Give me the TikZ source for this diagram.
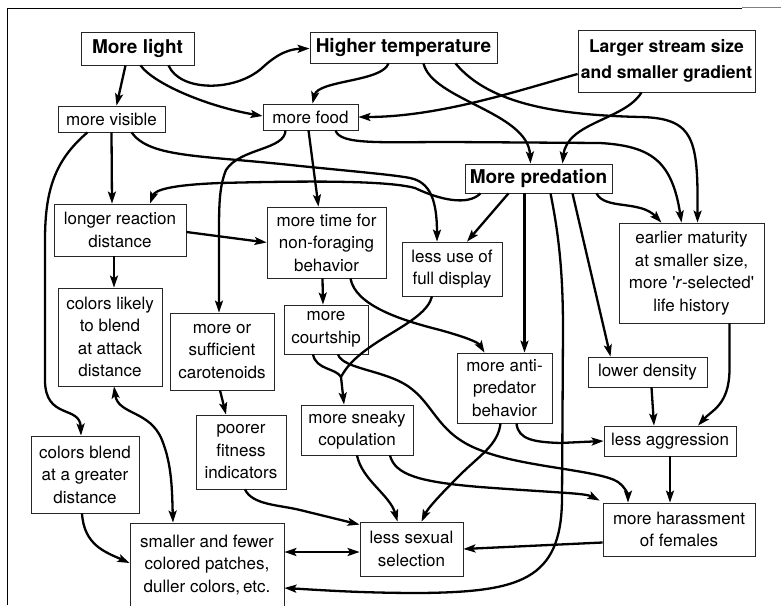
\documentclass[tikz,border=0pt]{standalone}
\usepackage{fontspec}
\setmainfont{TeX Gyre Heros}
\usetikzlibrary{arrows.meta}
\begin{document}
\begin{tikzpicture}[x=1pt,y=-1pt,
  box/.style={draw=black!85, line width=0.8pt, align=center, inner sep=0pt, font=\fontsize{17}{22.5}\selectfont},
  bbox/.style={box, font=\fontsize{19}{26}\selectfont\bfseries},
  conn/.style={line width=2.3pt, -{Stealth[length=12pt,width=8pt,inset=2.5pt]}},
  plain/.style={line width=2.3pt},
  both/.style={line width=2.3pt, {Stealth[length=12pt,width=8pt,inset=2.5pt]}-{Stealth[length=12pt,width=8pt,inset=2.5pt]}}]
\useasboundingbox (0,0) rectangle (781,605);
\fill[white] (0,0) rectangle (781,605);
% frame
\draw[line width=1.3pt] (7.5,605) -- (7.5,8.5) -- (742,8.5);
\draw[line width=1.3pt, gray] (742,7.5) -- (781,7.5);
% nodes
\node[bbox, minimum width=113pt, minimum height=33pt] (ML) at (137.5,48.5) {More light};
\node[bbox, minimum width=187pt, minimum height=31pt] (HT) at (403.5,47.5) {Higher temperature};
\node[bbox, minimum width=177pt, minimum height=62pt, font=\fontsize{17.5}{26}\selectfont\bfseries] (LS) at (666.5,61) {Larger stream size\\and smaller gradient};
\node[box, minimum width=107pt, minimum height=26pt] (MV) at (111.5,119) {more visible};
\node[box, minimum width=95pt, minimum height=26pt] (MF) at (310.5,117) {more food};
\node[bbox, minimum width=147pt, minimum height=29pt] (MP) at (538.5,178.5) {More predation};
\node[box, minimum width=132pt, minimum height=52pt] (LR) at (120,230) {longer reaction\\distance};
\node[box, minimum width=119pt, minimum height=71pt] (MT) at (326.5,242.5) {more time for\\non-foraging\\behavior};
\node[box, minimum width=100pt, minimum height=54pt] (LU) at (452,269) {less use of\\full display};
\node[box, minimum width=145pt, minimum height=100pt] (EM) at (691.5,273) {earlier maturity\\at smaller size,\\more \textquotesingle\textit{r}-selected\textquotesingle\\life history};
\node[box, minimum width=104pt, minimum height=98pt] (CLB) at (110,337) {colors likely\\to blend\\at attack\\distance};
\node[box, minimum width=104pt, minimum height=77pt] (CAR) at (222,351.5) {more or\\sufficient\\carotenoids};
\node[box, minimum width=84pt, minimum height=49pt] (MC) at (326,329.5) {more\\courtship};
\node[box, minimum width=95pt, minimum height=70pt] (AP) at (504.5,388) {more anti-\\predator\\behavior};
\node[box, minimum width=119pt, minimum height=30pt] (LD) at (647.5,372) {lower density};
\node[box, minimum width=108pt, minimum height=77pt] (CBG) at (85,474.5) {colors blend\\at a greater\\distance};
\node[box, minimum width=90pt, minimum height=74pt] (PF) at (241,452) {poorer\\fitness\\indicators};
\node[box, minimum width=112pt, minimum height=50pt] (SC) at (357,430) {more sneaky\\copulation};
\node[box, minimum width=132pt, minimum height=30pt] (LA) at (670,441) {less aggression};
\node[box, minimum width=154pt, minimum height=84pt] (SP) at (207,565) {smaller and fewer\\colored patches,\\duller colors,\,etc.};
\node[box, minimum width=103pt, minimum height=54pt] (LSS) at (411.5,549) {less sexual\\selection};
\node[box, minimum width=152pt, minimum height=53pt] (HF) at (679,529.5) {more harassment\\of females};
% connectors
\draw[conn] ([xshift=-12pt]ML.south) -- ([xshift=5pt]MV.north);
\draw[conn] ([xshift=3pt]ML.south) .. controls (155,85) and (210,107) .. ([yshift=1pt]MF.west);
\draw[conn] ([xshift=31pt]ML.south) .. controls (180,92) and (235,92) .. (262,68) .. controls (278,53) and (290,49) .. ([yshift=-1pt]HT.west);
\draw[conn] ([xshift=-15pt]HT.south) .. controls (382,82) and (318,80) .. ([xshift=2pt]MF.north);
\draw[conn] ([xshift=20pt]HT.south) .. controls (432,100) and (528,112) .. ([xshift=-8pt]MP.north);
\draw[conn] ([xshift=52pt]HT.south) .. controls (490,105) and (560,115) .. (640,117) .. controls (695,118) and (698,140) .. ([xshift=6pt]EM.north);
\draw[conn] ([yshift=-13pt]LS.west) .. controls (520,90) and (440,117) .. (MF.east);
\draw[conn] ([xshift=-25pt]LS.south) .. controls (625,120) and (567,122) .. ([xshift=24pt]MP.north);
\draw[conn] (MV.south) -- ([xshift=-8pt]LR.north);
\draw[conn] ([xshift=-24pt]MV.south) .. controls (55,160) and (45,190) .. (45,240) -- (45,380) .. controls (45,420) and (80,405) .. ([xshift=-4pt]CBG.north);
\draw[conn] ([xshift=20pt]MV.south) .. controls (150,158) and (200,155) .. (300,166) .. controls (360,172) and (395,175) .. (410,178) .. controls (430,182) and (437,200) .. ([xshift=-15pt]LU.north);
\draw[conn] ([xshift=-58pt]MP.south) .. controls (468,206) and (440,200) .. (415,188) .. controls (385,180) and (300,181) .. (220,183) .. controls (170,185) and (155,190) .. ([xshift=30pt]LR.north);
\draw[conn] ([xshift=-25pt]MF.south) .. controls (285,150) and (240,148) .. (226,170) .. controls (220,185) and (219,200) .. (219,230) -- ([xshift=-3pt]CAR.north);
\draw[conn] ([xshift=-2pt]MF.south) -- ([xshift=-8pt]MT.north);
\draw[conn] ([xshift=25pt]MF.south) .. controls (340,145) and (380,142) .. (450,142) -- (600,143) .. controls (650,146) and (672,160) .. ([xshift=-10pt]EM.north);
\draw[conn] ([xshift=-30pt]MP.south) -- ([xshift=15pt]LU.north);
\draw[conn] ([xshift=-14pt]MP.south) -- ([xshift=20pt]AP.north);
\draw[conn] ([xshift=12pt]MP.south) .. controls (560,240) and (563,280) .. (563,330) -- (562,500) .. controls (561,580) and (520,592) .. (420,593) .. controls (360,593) and (320,590) .. ([yshift=-23pt]SP.east);
\draw[conn] ([xshift=34pt]MP.south) -- ([xshift=-37pt]LD.north);
\draw[conn] ([xshift=58pt]MP.south) .. controls (605,210) and (640,200) .. ([xshift=-30pt]EM.north);
\draw[conn] ([xshift=-6pt]LR.south) -- ([xshift=4pt]CLB.north);
\draw[conn] ([yshift=-2pt]LR.east) -- (MT.west);
\draw[conn] ([xshift=-4pt]MT.south) -- ([xshift=-3pt]MC.north);
\draw[conn] ([xshift=24pt]MT.south) .. controls (355,305) and (400,320) .. (440,330) .. controls (465,337) and (478,342) .. ([xshift=-20pt]AP.north);
\coordinate (jn) at (341,377);
\draw[plain] ([xshift=-20pt]LU.south) .. controls (425,325) and (360,340) .. (jn);
\draw[plain] ([xshift=-13pt]MC.south) .. controls (316,370) and (336,368) .. (jn);
\draw[conn] (jn) -- ([xshift=-13pt]SC.north);
\draw[conn] ([xshift=12pt]MC.south) .. controls (343,370) and (390,370) .. (413,390) .. controls (435,408) and (440,435) .. (480,450) .. controls (520,467) and (600,470) .. (618,482) .. controls (626,488) and (628,495) .. ([xshift=-51pt]HF.north);
\draw[both] ([xshift=4pt]CLB.south) .. controls (118,415) and (150,410) .. (162,440) .. controls (172,465) and (172,490) .. ([xshift=-34pt]SP.north);
\draw[conn] ([xshift=-2pt]CAR.south) -- ([xshift=-15pt]PF.north);
\draw[conn] ([xshift=-3pt]CBG.south) .. controls (84,545) and (105,552) .. ([yshift=2pt]SP.west);
\draw[conn] ([xshift=4pt]PF.south) .. controls (252,505) and (280,505) .. (300,510) -- ([yshift=-3pt]LSS.north west);
\draw[conn] (SC.south) .. controls (362,480) and (390,495) .. ([xshift=-14pt]LSS.north);
\draw[conn] ([xshift=33pt]SC.south) .. controls (395,475) and (420,482) .. (480,487) .. controls (560,493) and (585,493) .. ([xshift=-3pt,yshift=2pt]HF.north west);
\draw[conn] ([xshift=-4pt]AP.south) .. controls (498,445) and (480,455) .. (460,475) .. controls (440,495) and (428,508) .. ([xshift=10pt]LSS.north);
\draw[conn] ([xshift=12pt]AP.south) .. controls (518,440) and (535,442) .. (560,443) -- (LA.west);
\draw[conn] ([xshift=4pt]LD.south) -- ([xshift=-16pt]LA.north);
\draw[conn] ([xshift=38pt]EM.south) -- (729.5,370) .. controls (729,405) and (712,410) .. ([xshift=28pt]LA.north);
\draw[conn] (LA.south) -- ([xshift=-9pt]HF.north);
\draw[conn] ([yshift=-13pt]HF.west) -- (LSS.east);
\draw[both] ([yshift=13pt]SP.east) -- ([yshift=-3pt]LSS.west);
\end{tikzpicture}
\end{document}
